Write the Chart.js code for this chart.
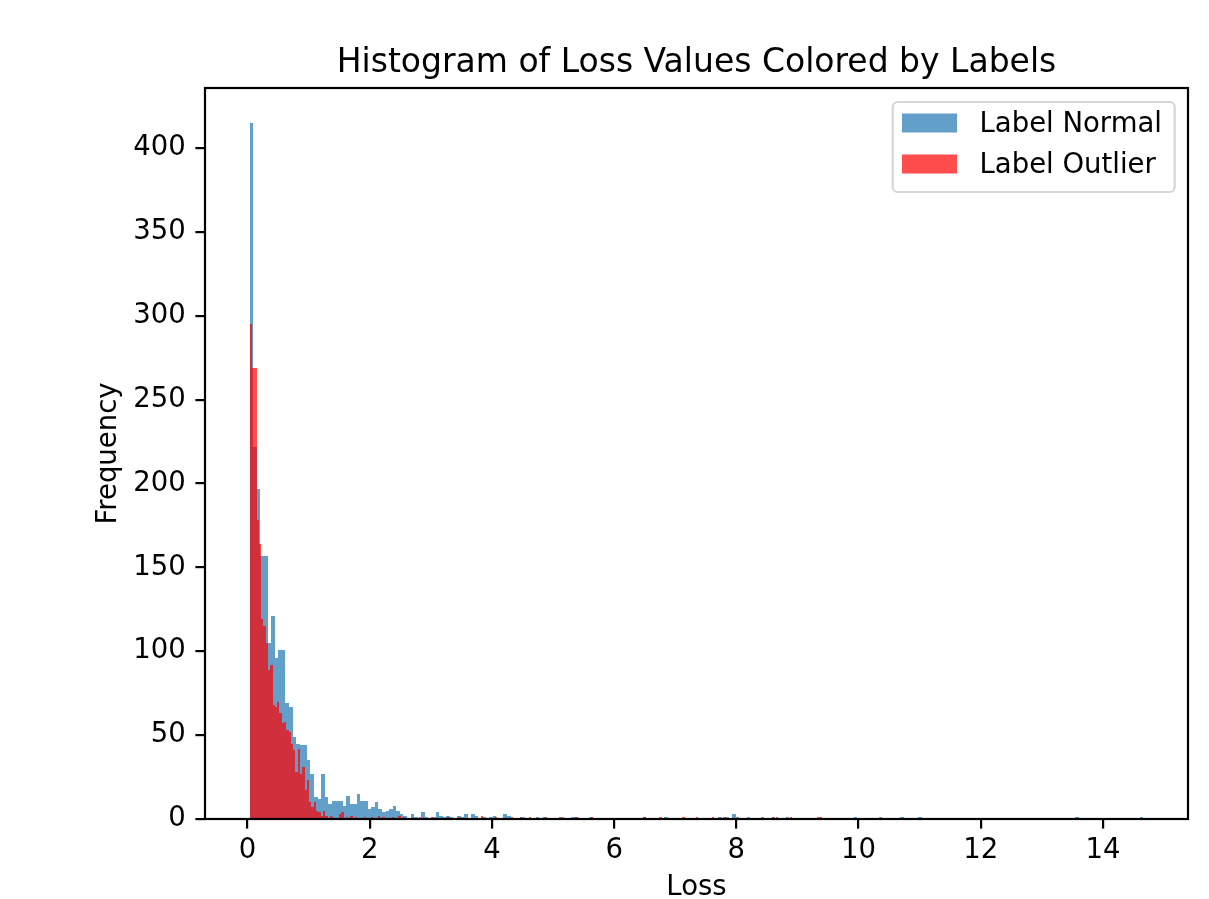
<!DOCTYPE html>
<html><head><meta charset="utf-8">
<script src="https://cdn.jsdelivr.net/npm/chart.js@4/dist/chart.umd.min.js"></script>
<style>html,body{margin:0;padding:0;background:#fff}#wrap{width:1209px;height:899px;position:relative}</style>
</head><body><div id="wrap"><canvas id="c"></canvas></div>
<script>
const chartTitle = "Histogram of Loss Values Colored by Labels";
const xLabel = "Loss";
const yLabel = "Frequency";
const seriesNames = ["Label Normal", "Label Outlier"];
const binCount = 250;
const normalRange = [0.036, 14.66];
const outlierRange = [0.036, 9.40];
// counts of the first bins (in order), then isolated bins as [loss, count]
const normalHead = [415,222,197,157,157,105,121,96,101,101,69,67,49,45,44,44,35,27,13,12,27,13,9,11,11,11,8,14,9,9,15,11,11,6,7,10,6,4,5,6,8,5];
const normalTail = [[2.53,3],[2.60,2],[2.71,3],[2.78,1],[2.89,4],[2.96,1],[3.03,1],[3.10,4],[3.17,2],[3.24,1],[3.30,2],[3.37,1],[3.43,2],[3.50,1],[3.56,3],[3.67,3],[3.74,2],[3.86,1],[4.00,1],[4.07,2],[4.21,3],[4.27,2],[4.51,1],[4.72,1],[4.87,1],[5.15,1],[5.33,1],[5.38,1],[5.61,1],[6.50,1],[6.88,1],[7.72,1],[7.82,1],[7.95,3],[8.03,1],[8.18,1],[8.45,1],[8.58,1],[8.86,1],[9.93,1],[10.37,1],[10.73,1],[11.02,1],[13.60,1],[14.62,1]];
const outlierHead = [295,269,269,178,164,119,115,105,89,92,68,67,70,63,57,58,53,52,45,41,28,42,27,31,17,23,10,7,10,5,4,2,5,2];
const outlierTail = [[1.36,2],[1.42,1],[1.50,3],[1.55,4],[1.61,1],[1.69,2],[1.79,1],[1.91,1],[2.04,1],[2.14,2],[2.23,1],[2.36,1],[2.50,2],[2.58,1],[2.81,1],[3.00,1],[3.26,1],[3.48,1],[3.82,2],[4.07,1],[4.31,1],[4.49,1],[4.61,1],[4.90,1],[5.11,1],[5.39,1],[5.62,1],[6.50,1],[6.75,1],[7.13,1],[7.36,1],[7.62,1],[7.80,1],[8.60,1],[8.68,1],[8.91,1],[9.33,1],[9.39,1]];
const xTicks = [0,2,4,6,8,10,12,14];
const yTicks = [0,50,100,150,200,250,300,350,400];

function buildBins(range, head, tail) {
  const w = (range[1] - range[0]) / binCount;
  const counts = new Array(binCount).fill(0);
  head.forEach((v, i) => { counts[i] = v; });
  tail.forEach(([x, c]) => {
    const i = Math.max(0, Math.min(binCount - 1, Math.floor((x - range[0]) / w)));
    counts[i] += c;
  });
  return counts.map((c, i) => ({ x: range[0] + (i + 0.5) * w, y: c }));
}

const normalBins = buildBins(normalRange, normalHead, normalTail);
const outlierBins = buildBins(outlierRange, outlierHead, outlierTail);
const allMax = Math.max(...normalBins.map(d => d.y), ...outlierBins.map(d => d.y));
const dMin = Math.min(normalRange[0], outlierRange[0]);
const dMax = Math.max(normalRange[1], outlierRange[1]);
const xMin = dMin - 0.05 * (dMax - dMin);
const xMax = dMax + 0.05 * (dMax - dMin);
const yMax = allMax * 1.05;

const FONT = "'DejaVu Sans', 'Liberation Sans', sans-serif";
const colors = ['rgba(31,119,180,0.7)', 'rgba(255,0,0,0.7)'];

// snap bar edges to whole pixels (as the original renderer does) to avoid seams
const snapBars = {
  id: 'snapBars',
  afterDatasetsUpdate(chart) {
    chart.getSortedVisibleDatasetMetas().forEach(meta => {
      meta.data.forEach(el => {
        const l = Math.round(el.x - el.width / 2);
        const r = Math.round(el.x + el.width / 2);
        el.x = (l + r) / 2;
        el.width = r - l;
        el.y = Math.round(el.y);
        el.base = Math.round(el.base);
      });
    });
  }
};

const decor = {
  id: 'decor',
  afterDraw(chart) {
    const ctx = chart.ctx, a = chart.chartArea;
    ctx.save();
    ctx.strokeStyle = '#000';
    ctx.lineWidth = 2.2;
    ctx.strokeRect(a.left, a.top, a.right - a.left, a.bottom - a.top);
    ctx.fillStyle = '#000';
    ctx.font = '33px ' + FONT;
    ctx.textAlign = 'center';
    ctx.textBaseline = 'alphabetic';
    ctx.fillText(chartTitle, (a.left + a.right) / 2, a.top - 16.5);
    ctx.font = '27.5px ' + FONT;
    ctx.textBaseline = 'top';
    ctx.fillText(xLabel, (a.left + a.right) / 2, 874);
    ctx.save();
    ctx.translate(95, (a.top + a.bottom) / 2);
    ctx.rotate(-Math.PI / 2);
    ctx.textBaseline = 'top';
    ctx.fillText(yLabel, 0, 0);
    ctx.restore();
    const lx = 892.7, ly = 102, lw = 282, lh = 90;
    ctx.beginPath();
    ctx.roundRect(lx, ly, lw, lh, 5);
    ctx.fillStyle = 'rgba(255,255,255,0.8)';
    ctx.fill();
    ctx.strokeStyle = 'rgba(204,204,204,0.8)';
    ctx.lineWidth = 2.2;
    ctx.stroke();
    const rows = [123, 164];
    seriesNames.forEach((name, i) => {
      ctx.fillStyle = colors[i];
      ctx.fillRect(902, rows[i] - 9.5, 55, 19);
      ctx.fillStyle = '#000';
      ctx.textAlign = 'left';
      ctx.textBaseline = 'middle';
      ctx.font = '27.5px ' + FONT;
      ctx.fillText(name, 979.5, rows[i] + 2);
    });
    ctx.restore();
  }
};

const tickFont = { family: FONT, size: 27.5 };
const tickGrid = { display: true, offset: false, drawOnChartArea: false, drawTicks: true, tickLength: 9.6, color: '#000', lineWidth: 2.2 };

new Chart(document.getElementById('c'), {
  type: 'bar',
  data: {
    datasets: [
      { label: seriesNames[0], data: normalBins, xAxisID: 'x', backgroundColor: colors[0], order: 2 },
      { label: seriesNames[1], data: outlierBins, xAxisID: 'x2', backgroundColor: colors[1], order: 1 }
    ]
  },
  options: {
    responsive: true,
    maintainAspectRatio: false,
    animation: false,
    events: [],
    devicePixelRatio: 1,
    layout: { padding: { left: 0, right: 21, top: 88, bottom: 0 } },
    datasets: { bar: { barPercentage: 1, categoryPercentage: 1, borderWidth: 0, grouped: false, inflateAmount: 0 } },
    plugins: { legend: { display: false }, title: { display: false }, tooltip: { enabled: false } },
    scales: {
      x: {
        type: 'linear', min: xMin, max: xMax, offset: false,
        afterBuildTicks: s => { s.ticks = xTicks.map(v => ({ value: v })); },
        afterFit: s => { s.height = 80; },
        ticks: { color: '#000', font: tickFont, padding: 6, maxRotation: 0, autoSkip: false },
        grid: tickGrid,
        border: { display: false }
      },
      x2: { type: 'linear', min: xMin, max: xMax, offset: false, display: false, grid: { offset: false } },
      y: {
        type: 'linear', min: 0, max: yMax,
        afterBuildTicks: s => { s.ticks = yTicks.map(v => ({ value: v })); },
        afterFit: s => { s.width = 205; },
        ticks: { color: '#000', font: tickFont, padding: 9.6, autoSkip: false },
        grid: tickGrid,
        border: { display: false }
      }
    }
  },
  plugins: [snapBars, decor]
});
</script>
</body></html>
